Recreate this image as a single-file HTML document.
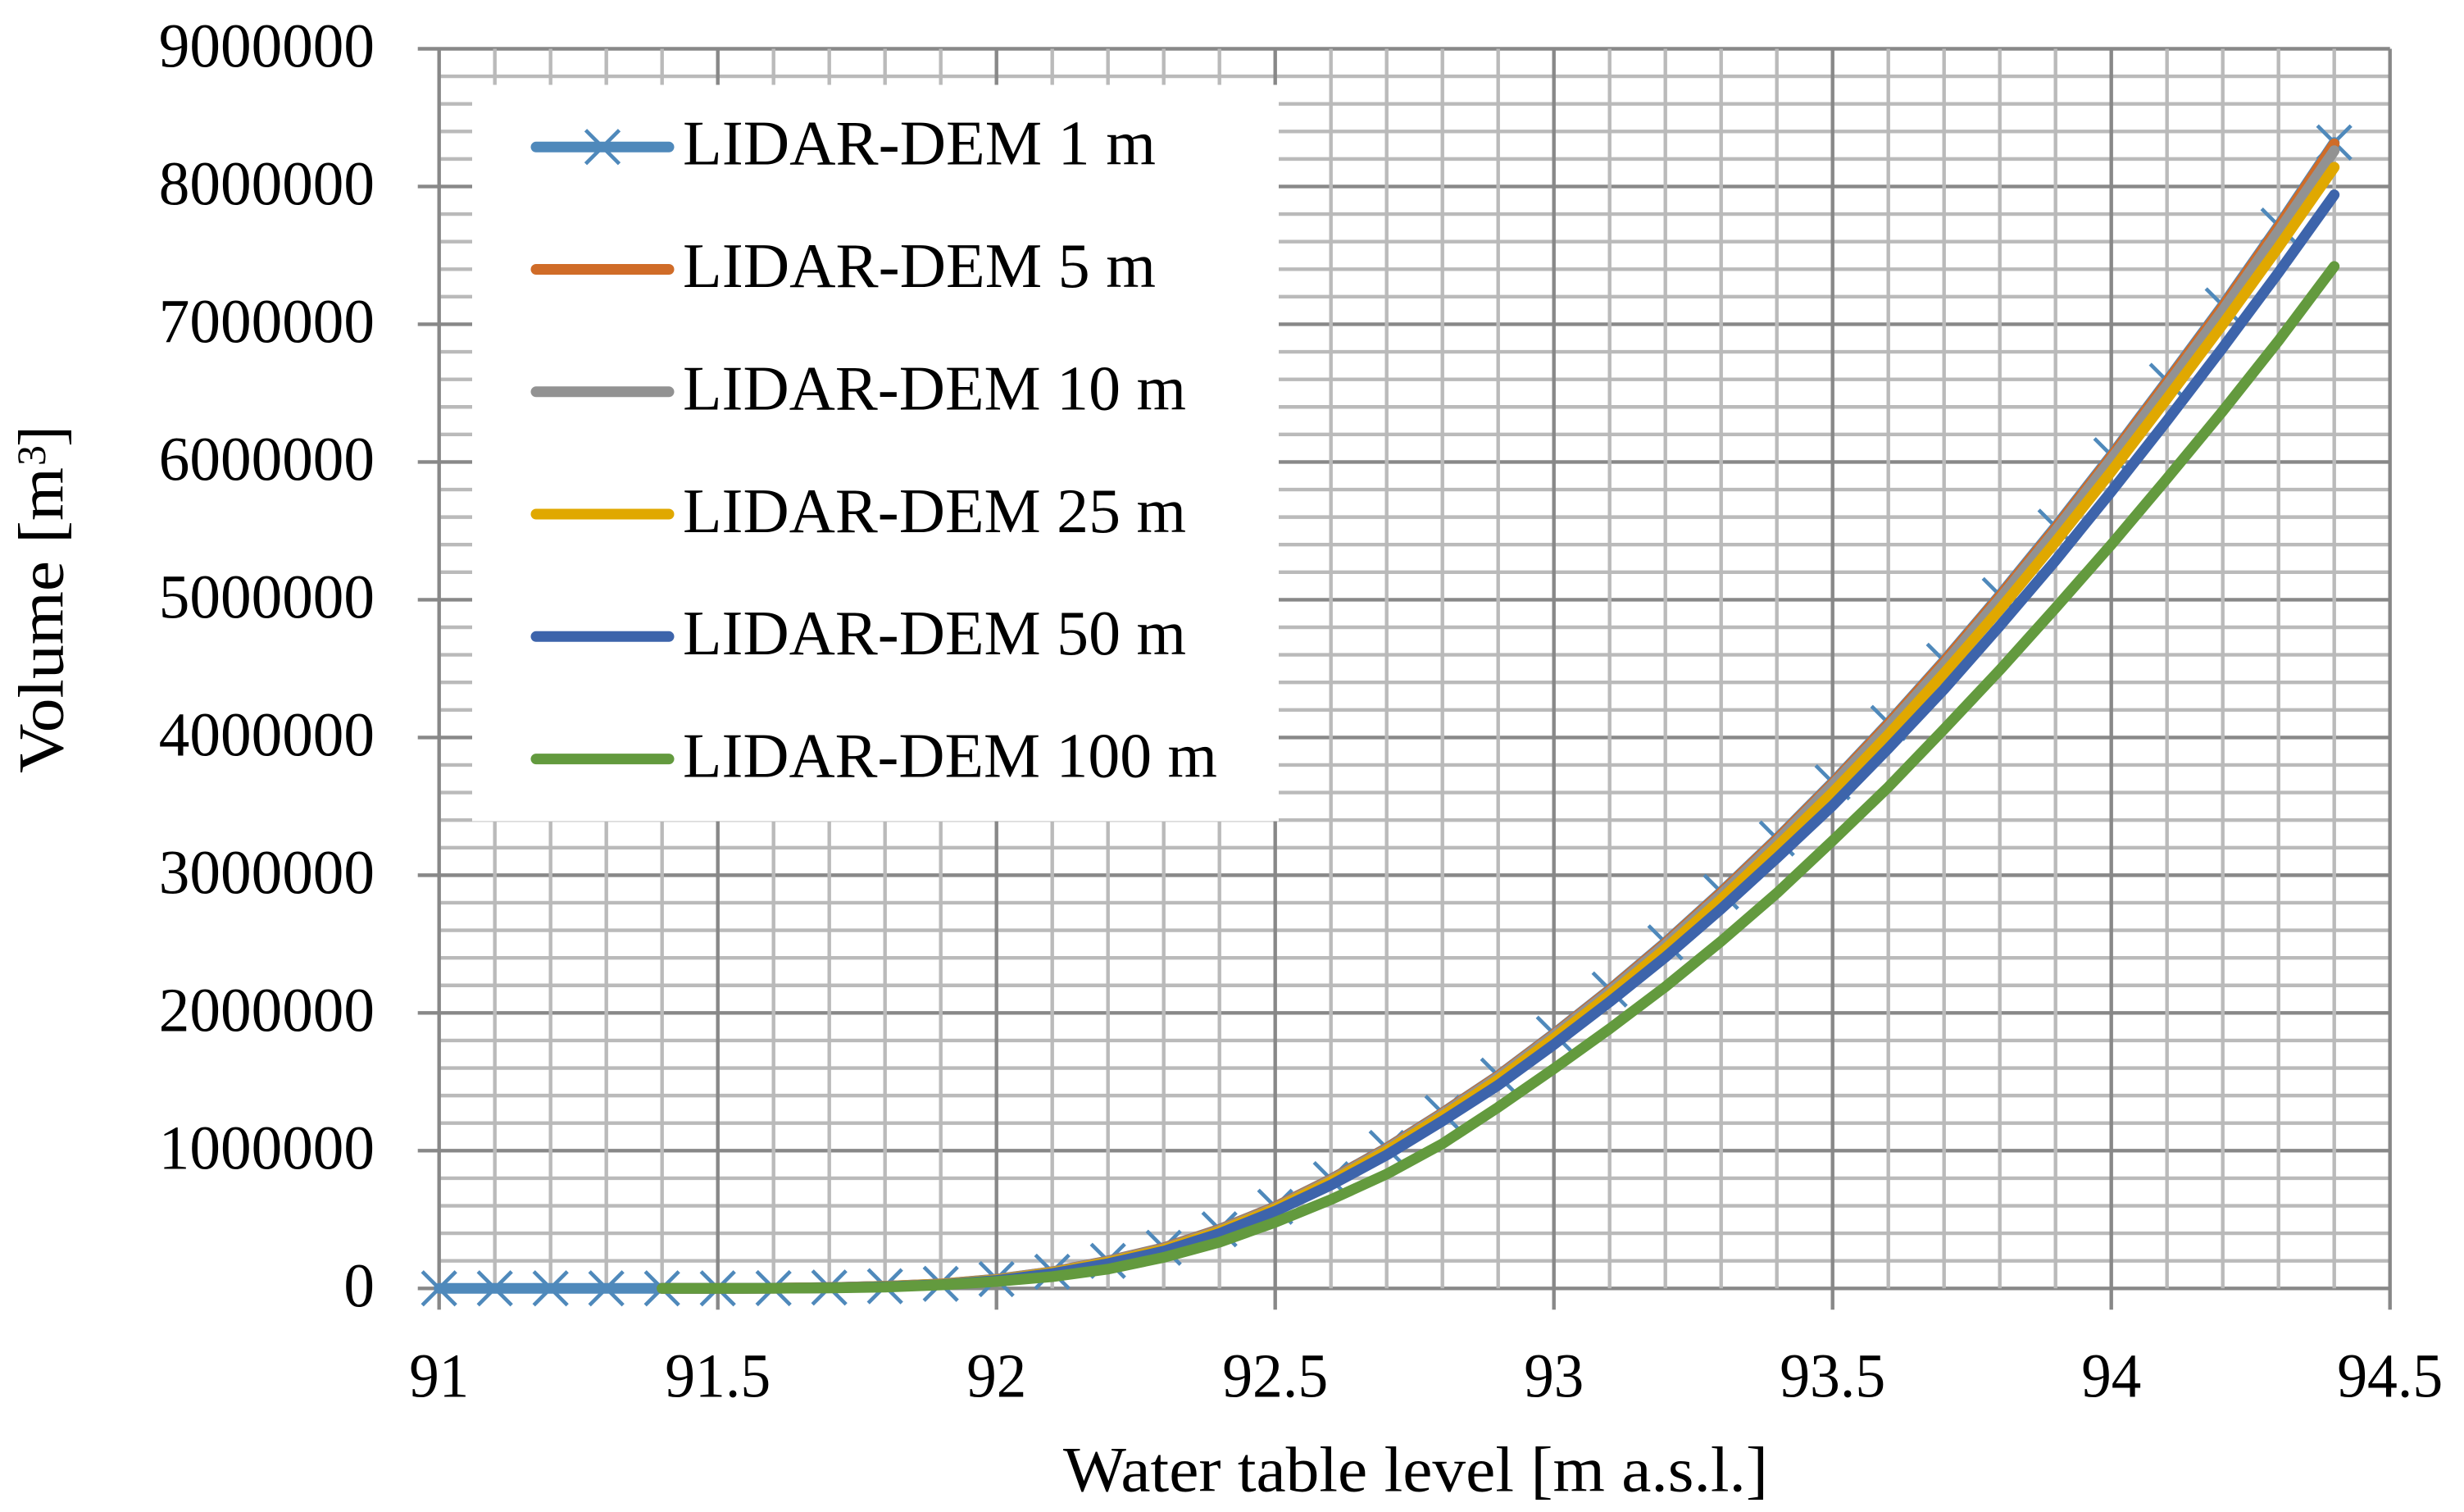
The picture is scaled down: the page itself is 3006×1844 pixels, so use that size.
<!DOCTYPE html>
<html lang="en">
<head>
<meta charset="utf-8">
<title>Volume vs water table level</title>
<style>
html,body{margin:0;padding:0;background:#fff;}
svg{display:block;}
text{font-family:"Liberation Serif","DejaVu Serif",serif;fill:#000;}
</style>
</head>
<body>
<svg id="chart" xmlns="http://www.w3.org/2000/svg" width="3006" height="1844" viewBox="0 0 3006 1844">
  <rect x="0" y="0" width="3006" height="1844" fill="#ffffff"/>
  <g id="grid"></g>
  <g id="ticks"></g>
  <g id="series"></g>

  <g>
    <rect x="576" y="103.5" width="984" height="898" fill="#ffffff"/>
    <g>
      <line x1="654" y1="179.3" x2="816" y2="179.3" stroke="#4f89bb" stroke-width="13" stroke-linecap="round"/>
      <line x1="714.5" y1="158.8" x2="755.5" y2="199.8" stroke="#4f89bb" stroke-width="4.6"/>
      <line x1="714.5" y1="199.8" x2="755.5" y2="158.8" stroke="#4f89bb" stroke-width="4.6"/>
      <text x="833" y="200.7" font-size="77" textLength="577" lengthAdjust="spacingAndGlyphs">LIDAR-DEM 1 m</text>
    </g>
    <g>
      <line x1="654" y1="328.5" x2="816" y2="328.5" stroke="#d06c28" stroke-width="13" stroke-linecap="round"/>
      <text x="833" y="350" font-size="77" textLength="577" lengthAdjust="spacingAndGlyphs">LIDAR-DEM 5 m</text>
    </g>
    <g>
      <line x1="654" y1="477.8" x2="816" y2="477.8" stroke="#929292" stroke-width="13" stroke-linecap="round"/>
      <text x="833" y="499.5" font-size="77" textLength="614" lengthAdjust="spacingAndGlyphs">LIDAR-DEM 10 m</text>
    </g>
    <g>
      <line x1="654" y1="627" x2="816" y2="627" stroke="#e0a800" stroke-width="13" stroke-linecap="round"/>
      <text x="833" y="648.8" font-size="77" textLength="614" lengthAdjust="spacingAndGlyphs">LIDAR-DEM 25 m</text>
    </g>
    <g>
      <line x1="654" y1="776.3" x2="816" y2="776.3" stroke="#3d64ab" stroke-width="13" stroke-linecap="round"/>
      <text x="833" y="798" font-size="77" textLength="614" lengthAdjust="spacingAndGlyphs">LIDAR-DEM 50 m</text>
    </g>
    <g>
      <line x1="654" y1="925.6" x2="816" y2="925.6" stroke="#639a3e" stroke-width="13" stroke-linecap="round"/>
      <text x="833" y="947.4" font-size="77" textLength="652" lengthAdjust="spacingAndGlyphs">LIDAR-DEM 100 m</text>
    </g>
  </g>

  <text x="1297" y="1818.3" font-size="78" textLength="860" lengthAdjust="spacingAndGlyphs">Water table level [m a.s.l.]</text>
  <g>
    <text transform="translate(76.7,943) rotate(-90)" font-size="78" textLength="373" lengthAdjust="spacingAndGlyphs">Volume [m</text>
    <text transform="translate(55,568) rotate(-90)" font-size="50">3</text>
    <text transform="translate(76.7,545) rotate(-90)" font-size="78">]</text>
  </g>
</svg>

<script>
var xValues = [91,91.1,91.2,91.3,91.4,91.5,91.6,91.7,91.8,91.9,92,92.1,92.2,92.3,92.4,92.5,92.6,92.7,92.8,92.9,93,93.1,93.2,93.3,93.4,93.5,93.6,93.7,93.8,93.9,94,94.1,94.2,94.3,94.4];
var lidar1m = [0,0,0,0,0,0,2000,6000,16000,33000,67000,121000,200000,295000,429000,593000,793000,1020000,1275000,1545000,1849000,2170000,2512000,2879000,3266000,3674000,4105000,4557000,5033000,5530000,6049000,6589000,7137000,7716000,8320000];
var lidar5m = [null,null,null,null,0,0,2000,6000,16000,33000,66000,120000,198000,293000,427000,591000,790000,1017000,1272000,1542000,1845000,2165000,2506000,2873000,3260000,3667000,4098000,4550000,5025000,5520000,6040000,6580000,7127000,7705000,8310000];
var lidar10m = [null,null,null,null,0,0,2000,5000,15000,31000,64000,118000,195000,289000,422000,586000,785000,1010000,1265000,1534000,1838000,2155000,2495000,2860000,3245000,3655000,4080000,4530000,5005000,5500000,6020000,6555000,7100000,7675000,8260000];
var lidar25m = [null,null,null,null,0,0,1000,5000,14000,30000,62000,115000,190000,283000,414000,578000,775000,998000,1250000,1515000,1815000,2130000,2465000,2825000,3205000,3600000,4020000,4465000,4930000,5420000,5930000,6460000,7000000,7560000,8140000];
var lidar50m = [null,null,null,null,0,0,1000,4000,12000,27000,58000,108000,180000,270000,398000,560000,750000,968000,1215000,1475000,1770000,2080000,2405000,2755000,3125000,3505000,3920000,4350000,4810000,5285000,5785000,6300000,6830000,7375000,7940000];
var lidar100m = [null,null,null,null,0,0,1000,3000,9000,25000,50000,85000,140000,225000,335000,480000,645000,830000,1050000,1315000,1595000,1885000,2190000,2520000,2870000,3250000,3640000,4060000,4490000,4940000,5400000,5880000,6370000,6880000,7420000];
var yTickValues = [0,1000000,2000000,3000000,4000000,5000000,6000000,7000000,8000000,9000000];
var yTickLabels = ['0','1000000','2000000','3000000','4000000','5000000','6000000','7000000','8000000','9000000'];
var xTickValues = [91,91.5,92,92.5,93,93.5,94,94.5];
var xTickLabels = ['91','91.5','92','92.5','93','93.5','94','94.5'];
var xMinorValues = [91.1,91.2,91.3,91.4,91.6,91.7,91.8,91.9,92.1,92.2,92.3,92.4,92.6,92.7,92.8,92.9,93.1,93.2,93.3,93.4,93.6,93.7,93.8,93.9,94.1,94.2,94.3,94.4];
var yMinorValues = [200000,400000,600000,800000,1200000,1400000,1600000,1800000,2200000,2400000,2600000,2800000,3200000,3400000,3600000,3800000,4200000,4400000,4600000,4800000,5200000,5400000,5600000,5800000,6200000,6400000,6600000,6800000,7200000,7400000,7600000,7800000,8200000,8400000,8600000,8800000];

var NS = 'http://www.w3.org/2000/svg';
var PLOT = {left: 535.7, right: 2915.7, top: 59.5, bottom: 1571.3, tick: 26};
function xScale(v){ return PLOT.left + (v - 91) * (PLOT.right - PLOT.left) / 3.5; }
function yScale(v){ return PLOT.bottom - v * (PLOT.bottom - PLOT.top) / 9000000; }

function line(parent, x1, y1, x2, y2, color, width){
  var el = document.createElementNS(NS, 'line');
  el.setAttribute('x1', x1); el.setAttribute('y1', y1);
  el.setAttribute('x2', x2); el.setAttribute('y2', y2);
  el.setAttribute('stroke', color); el.setAttribute('stroke-width', width);
  parent.appendChild(el);
  return el;
}

var grid = document.getElementById('grid');
var ticks = document.getElementById('ticks');
var MINOR = '#bababa', MAJOR = '#888888', GW = 4.4;

yMinorValues.forEach(function(v){
  var el = line(grid, PLOT.left, yScale(v), PLOT.right, yScale(v), MINOR, GW);
  
  
});
yTickValues.forEach(function(v, i){
  var el = line(grid, PLOT.left - PLOT.tick, yScale(v), PLOT.right, yScale(v), MAJOR, GW);
  
  
  var t = document.createElementNS(NS, 'text');
  
  
  t.setAttribute('x', 457);
  t.setAttribute('y', yScale(v) + 22);
  t.setAttribute('font-size', '76');
  t.setAttribute('text-anchor', 'end');
  t.setAttribute('textLength', yTickLabels[i].length * 37.6);
  t.setAttribute('lengthAdjust', 'spacingAndGlyphs');
  t.textContent = yTickLabels[i];
  ticks.appendChild(t);
});
xMinorValues.forEach(function(v){
  var el = line(grid, xScale(v), PLOT.top, xScale(v), PLOT.bottom, MINOR, GW);
  
  
});
xTickValues.forEach(function(v, i){
  var el = line(grid, xScale(v), PLOT.top, xScale(v), PLOT.bottom + PLOT.tick, MAJOR, GW);
  
  
  var label = xTickLabels[i];
  var t = document.createElementNS(NS, 'text');
  
  
  t.setAttribute('x', xScale(v));
  t.setAttribute('y', 1703.3);
  t.setAttribute('font-size', '76');
  t.setAttribute('text-anchor', 'middle');
  t.setAttribute('textLength', label.indexOf('.') >= 0 ? 129 : 73);
  t.setAttribute('lengthAdjust', 'spacingAndGlyphs');
  t.textContent = label;
  ticks.appendChild(t);
});

var seriesGroup = document.getElementById('series');
function drawSeries(values, color, width){
  var pts = [];
  values.forEach(function(v, i){
    if (v !== null) pts.push(xScale(xValues[i]).toFixed(1) + ',' + yScale(v).toFixed(1));
  });
  var el = document.createElementNS(NS, 'polyline');
  
  
  el.setAttribute('points', pts.join(' '));
  el.setAttribute('fill', 'none');
  el.setAttribute('stroke', color);
  el.setAttribute('stroke-width', width);
  el.setAttribute('stroke-linecap', 'round');
  el.setAttribute('stroke-linejoin', 'round');
  seriesGroup.appendChild(el);
}
function drawMarkers(values, color){
  var h = 20.5;
  values.forEach(function(v, i){
    var cx = xScale(xValues[i]), cy = yScale(v);
    var g = document.createElementNS(NS, 'g');
    
    
    line(g, cx - h, cy - h, cx + h, cy + h, color, 4.6);
    line(g, cx - h, cy + h, cx + h, cy - h, color, 4.6);
    seriesGroup.appendChild(g);
  });
}
drawMarkers(lidar1m, '#4f89bb');
drawSeries(lidar1m, '#4f89bb', 13);
drawSeries(lidar5m, '#d06c28', 13);
drawSeries(lidar10m, '#929292', 13);
drawSeries(lidar25m, '#e0a800', 13);
drawSeries(lidar50m, '#3d64ab', 13);
drawSeries(lidar100m, '#639a3e', 13);
</script>
</body>
</html>
